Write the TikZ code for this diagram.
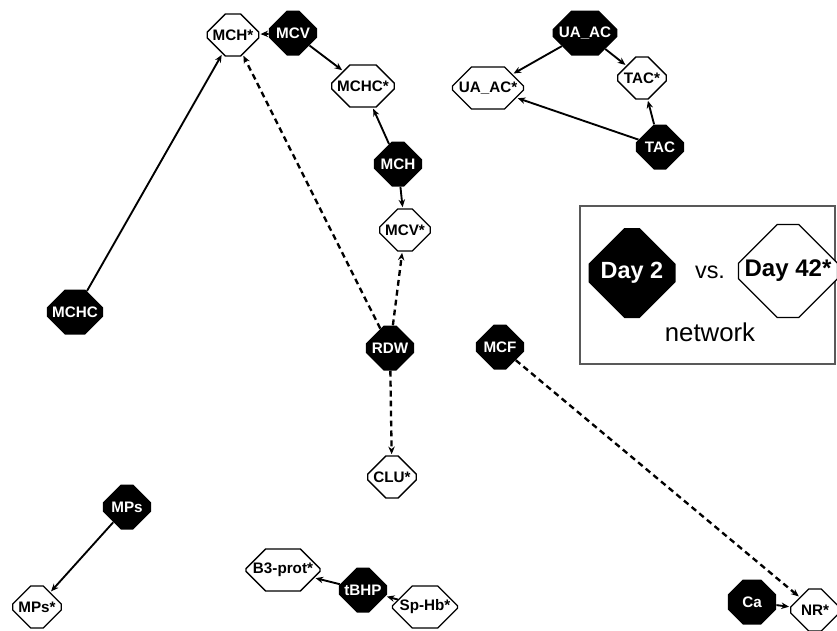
\documentclass[tikz,border=0pt]{standalone}
\usepackage{fontspec}
\setmainfont{Liberation Sans}
\usetikzlibrary{arrows.meta,shapes.misc}

\tikzset{
    early/.style={chamfered rectangle, chamfered rectangle sep=0.38cm, inner xsep=0pt, inner ysep=0pt,
        minimum width=1.45cm, minimum height=1.35cm, fill=black, text=white,
        font=\bfseries\fontsize{13}{15}\selectfont},
    late/.style={early, fill=white, draw=black, line width=1.1pt, text=black, minimum width=1.45cm, minimum height=1.26cm},
    link/.style={-{Stealth[length=6.5pt,width=5.5pt]}, line width=1.6pt, shorten >=1pt},
    dlink/.style={link, dash pattern=on 5pt off 3.5pt, line width=2pt}
}

\begin{document}
\begin{tikzpicture}[x=0.03cm,y=-0.03cm]
    \useasboundingbox (0,0) rectangle (837,630);

    \node[late] (mchs)  at (233,35)  {MCH*};
    \node[early] (mcv)   at (293,33)  {MCV};
    \node[late] (mchcs) at (363,86)  {MCHC*};
    \node[early] (uaac)  at (585,33)  {UA\_AC};
    \node[late] (uaacs) at (488,88)  {UA\_AC*};
    \node[late] (tacs)  at (642,78)  {TAC*};
    \node[early] (tac)   at (660,147) {TAC};
    \node[early] (mch)   at (398,164) {MCH};
    \node[late] (mcvs)  at (405,230) {MCV*};
    \node[early] (mchc)  at (75,312)  {MCHC};
    \node[early] (rdw)   at (390,348) {RDW};
    \node[early] (mcf)   at (500,347) {MCF};
    \node[late] (clus)  at (392,477) {CLU*};
    \node[early] (mps)   at (127,507) {MPs};
    \node[late] (mpss)  at (37,607)  {MPs*};
    \node[late] (b3s)   at (283,570) {B3-prot*};
    \node[early] (tbhp)  at (363,590) {tBHP};
    \node[late] (sphb)  at (425,607) {Sp-Hb*};
    \node[early] (ca)    at (752,602) {Ca};
    \node[late] (nrs)   at (815,610) {NR*};

    \draw[line width=1pt, black!65] (580,206) rectangle (835,364);
    \node[early, minimum width=2.61cm, minimum height=2.7cm, chamfered rectangle sep=0.76cm,
        font=\bfseries\fontsize{20}{22}\selectfont] (day2) at (632,273) {Day 2};
    \node[font=\fontsize{20}{22}\selectfont] (vs) at (710,272) {vs.};
    \node[late, minimum width=2.91cm, minimum height=2.79cm, chamfered rectangle sep=0.84cm, inner xsep=-4pt,
        font=\bfseries\fontsize{20.5}{22}\selectfont] (day42) at (788,271) {Day 42*};
    \node[font=\fontsize{22}{24}\selectfont] (net) at (710,332) {network};

    \draw[link] (mcv) -- (mchs);
    \draw[link] (mcv) -- (mchcs);
    \draw[link] (mch) -- (mchcs);
    \draw[link] (mch) -- (mcvs);
    \draw[link] (mchc) -- (mchs);
    \draw[dlink] (rdw) -- (mchs);
    \draw[dlink] (rdw) -- (mcvs);
    \draw[dlink] (rdw) -- (clus);
    \draw[link] (uaac) -- (uaacs);
    \draw[link] (uaac) -- (tacs);
    \draw[link] (tac) -- (tacs);
    \draw[link] (tac) -- (uaacs);
    \draw[dlink] (mcf) -- (nrs);
    \draw[link] (ca) -- (nrs);
    \draw[link] (mps) -- (mpss);
    \draw[link] (tbhp) -- (b3s);
    \draw[link] (sphb) -- (tbhp);
\end{tikzpicture}
\end{document}
